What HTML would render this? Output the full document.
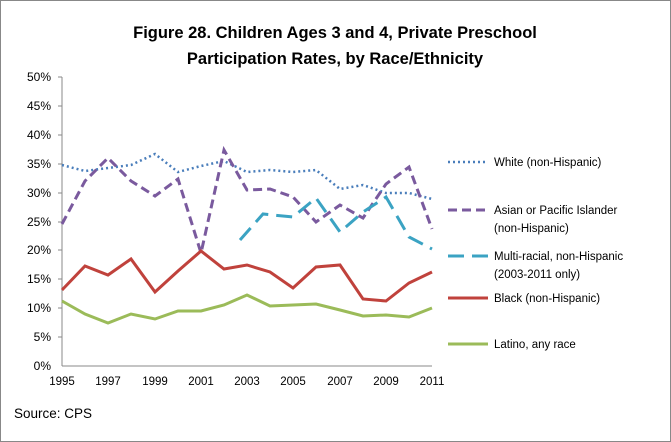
<!DOCTYPE html>
<html><head><meta charset="utf-8"><style>
body{margin:0;background:#fff}
svg{display:block}
text{font-family:"Liberation Sans",sans-serif;fill:#000}
</style></head><body>
<svg width="671" height="442" viewBox="0 0 671 442">
<rect x="0.5" y="0.5" width="670" height="441" fill="#fff" stroke="#888"/>
<text x="335" y="38" text-anchor="middle" font-size="16.5" font-weight="bold">Figure 28. Children Ages 3 and 4, Private Preschool</text>
<text x="335" y="64" text-anchor="middle" font-size="16.5" font-weight="bold">Participation Rates, by Race/Ethnicity</text>
<g font-size="12" text-anchor="end">
<text x="51" y="81">50%</text><text x="51" y="110">45%</text><text x="51" y="139">40%</text><text x="51" y="168">35%</text><text x="51" y="197">30%</text><text x="51" y="226">25%</text><text x="51" y="254">20%</text><text x="51" y="283">15%</text><text x="51" y="312">10%</text><text x="51" y="341">5%</text><text x="51" y="370">0%</text>
</g>
<line x1="62" y1="77" x2="62" y2="366" stroke="#888"/>
<line x1="62" y1="366" x2="432" y2="366" stroke="#888"/>
<g stroke="#888">
<line x1="58" y1="77" x2="62" y2="77"/><line x1="58" y1="106" x2="62" y2="106"/><line x1="58" y1="135" x2="62" y2="135"/><line x1="58" y1="164" x2="62" y2="164"/><line x1="58" y1="193" x2="62" y2="193"/><line x1="58" y1="222" x2="62" y2="222"/><line x1="58" y1="250" x2="62" y2="250"/><line x1="58" y1="279" x2="62" y2="279"/><line x1="58" y1="308" x2="62" y2="308"/><line x1="58" y1="337" x2="62" y2="337"/>
</g>
<g font-size="11.5" text-anchor="middle">
<text x="62" y="385">1995</text><text x="108" y="385">1997</text><text x="155" y="385">1999</text><text x="201" y="385">2001</text><text x="247" y="385">2003</text><text x="293" y="385">2005</text><text x="340" y="385">2007</text><text x="386" y="385">2009</text><text x="432" y="385">2011</text>
</g>
<g fill="none" stroke-width="3">
<polyline stroke="#4a7ebb" stroke-width="2.5" stroke-dasharray="2,3" points="62,165 85,171 108,168 131,165 155,154 178,172 201,166 224,161 247,172 270,170 293,172 316,170 340,189 363,185 386,193 409,193 432,199"/>
<polyline stroke="#7a5a9e" stroke-dasharray="9,5" points="62,224 85,181 108,158 131,181 155,196 178,179 201,253 224,150 247,190 270,189 293,197 316,222 340,205 363,218 386,184 409,167 432,229"/>
<polyline stroke="#3ba3c3" stroke-dasharray="16,8" points="240,240 263,214 293,217 316,198 340,232 363,212 386,197 409,237 432,249"/>
<polyline stroke="#c0423c" points="62,290 85,266 108,275 131,259 155,292 178,271 201,251 224,269 247,265 270,272 293,288 316,267 340,265 363,299 386,301 409,283 432,272"/>
<polyline stroke="#9bbb59" points="62,301 85,314 108,323 131,314 155,319 178,311 201,311 224,305 247,295 270,306 293,305 316,304 340,310 363,316 386,315 409,317 432,308"/>
</g>
<g fill="none" stroke-width="3">
<line x1="448" y1="162" x2="488" y2="162" stroke="#4a7ebb" stroke-width="2.5" stroke-dasharray="2,3"/>
<line x1="448" y1="210" x2="488" y2="210" stroke="#7a5a9e" stroke-dasharray="9,5"/>
<line x1="448" y1="256" x2="488" y2="256" stroke="#3ba3c3" stroke-dasharray="16,8"/>
<line x1="448" y1="298" x2="488" y2="298" stroke="#c0423c"/>
<line x1="448" y1="344" x2="488" y2="344" stroke="#9bbb59"/>
</g>
<g font-size="11.5">
<text x="494" y="166">White (non-Hispanic)</text>
<text x="494" y="214">Asian or Pacific Islander</text>
<text x="494" y="232">(non-Hispanic)</text>
<text x="494" y="260">Multi-racial, non-Hispanic</text>
<text x="494" y="278">(2003-2011 only)</text>
<text x="494" y="302">Black (non-Hispanic)</text>
<text x="494" y="348">Latino, any race</text>
</g>
<text x="14" y="418" font-size="13.5">Source: CPS</text>
</svg>
</body></html>
